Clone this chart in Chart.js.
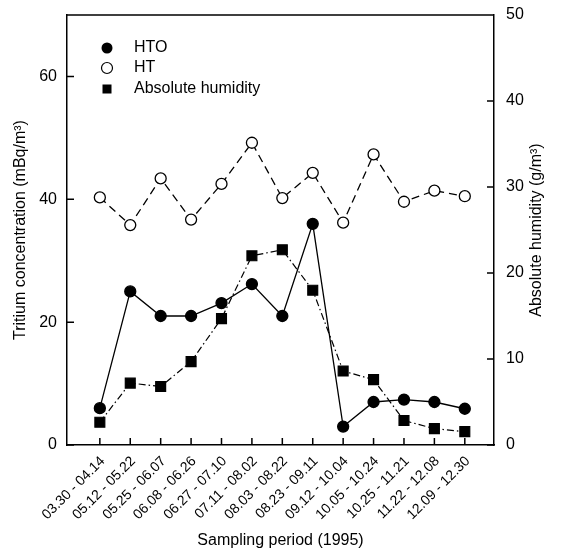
<!DOCTYPE html>
<html>
<head>
<meta charset="utf-8">
<script src="https://cdn.jsdelivr.net/npm/chart.js@4/dist/chart.umd.min.js"></script>
<style>
html,body{margin:0;padding:0;background:#fff;}
</style>
</head>
<body>
<canvas id="grafico" width="561" height="552"></canvas>
<script>
const periodos = ['03.30 - 04.14','05.12 - 05.22','05.25 - 06.07','06.08 - 06.26','06.27 - 07.10','07.11 - 08.02','08.03 - 08.22','08.23 - 09.11','09.12 - 10.04','10.05 - 10.24','10.25 - 11.21','11.22 - 12.08','12.09 - 12.30']
const valoresHTO = [6.0, 25.0, 21.0, 21.0, 23.1, 26.2, 21.0, 36.0, 3.0, 7.0, 7.4, 7.0, 5.9]
const valoresHT = [40.3, 35.8, 43.4, 36.7, 42.5, 49.2, 40.2, 44.3, 36.2, 47.3, 39.6, 41.4, 40.5]
const humedad = [2.65, 7.2, 6.8, 9.7, 14.7, 22.0, 22.7, 18.0, 8.6, 7.6, 2.85, 1.9, 1.55]
const ticksIzq = [0, 20, 40, 60]
const ticksDer = [0, 10, 20, 30, 40, 50]

Chart.defaults.font.family = '"Liberation Sans", Arial, sans-serif'
Chart.defaults.color = '#000'

const aPuntos = arr => arr.map((v, i) => ({x: i, y: v}))

// marcas hacia adentro, borde superior, leyenda y titulo derecho
const dibujoExtra = {
    id: 'dibujoExtra',
    afterDraw(chart) {
        const ctx = chart.ctx
        const area = chart.chartArea
        const sx = chart.scales.x, sy = chart.scales.y, sy2 = chart.scales.y2
        ctx.save()
        ctx.strokeStyle = '#000'
        ctx.lineWidth = 1.5
        ctx.beginPath()
        ctx.moveTo(area.left, area.top)
        ctx.lineTo(area.right, area.top)
        sx.ticks.forEach(t => {
            let px = sx.getPixelForValue(t.value)
            ctx.moveTo(px, area.bottom)
            ctx.lineTo(px, area.bottom - 7)
        })
        sy.ticks.forEach(t => {
            let py = sy.getPixelForValue(t.value)
            ctx.moveTo(area.left, py)
            ctx.lineTo(area.left + 7, py)
        })
        sy2.ticks.forEach(t => {
            let py = sy2.getPixelForValue(t.value)
            ctx.moveTo(area.right, py)
            ctx.lineTo(area.right - 7, py)
        })
        ctx.stroke()

        // leyenda
        ctx.font = '16px "Liberation Sans", Arial, sans-serif'
        ctx.textBaseline = 'middle'
        ctx.textAlign = 'left'
        ctx.fillStyle = '#000'
        ctx.lineWidth = 1.2
        let lx = 107, ly = 48
        ctx.beginPath(); ctx.arc(lx, ly, 5.5, 0, Math.PI * 2); ctx.fill()
        ctx.fillText('HTO', 134, ly)
        ly = 68
        ctx.beginPath(); ctx.arc(lx, ly, 5.5, 0, Math.PI * 2); ctx.stroke()
        ctx.fillText('HT', 134, ly)
        ly = 89
        ctx.fillRect(lx - 4.5, ly - 4.5, 9, 9)
        ctx.fillText('Absolute humidity', 134, ly)

        // titulo eje derecho
        ctx.translate(537, (area.top + area.bottom) / 2)
        ctx.rotate(-Math.PI / 2)
        ctx.textAlign = 'center'
        ctx.font = '16px "Liberation Sans", Arial, sans-serif'
        ctx.fillText('Absolute humidity (g/m³)', 0, 0)
        ctx.restore()
    }
}

let grafico = new Chart(document.getElementById('grafico'), {
    type: 'line',
    data: {
        datasets: [
            {
                label: 'HT',
                data: aPuntos(valoresHT),
                yAxisID: 'y',
                borderColor: '#000',
                borderWidth: 1.3,
                borderDash: [8, 5],
                pointStyle: 'circle',
                pointRadius: 5.5,
                pointBorderWidth: 1.3,
                pointBackgroundColor: '#fff',
                pointBorderColor: '#000',
                order: 2,
            },
            {
                label: 'HTO',
                data: aPuntos(valoresHTO),
                yAxisID: 'y',
                borderColor: '#000',
                borderWidth: 1.3,
                pointStyle: 'circle',
                pointRadius: 5.5,
                pointBackgroundColor: '#000',
                pointBorderColor: '#000',
                order: 1,
            },
            {
                label: 'Absolute humidity',
                data: aPuntos(humedad),
                yAxisID: 'y2',
                borderColor: '#000',
                borderWidth: 1.2,
                borderDash: [7, 3, 1.5, 3],
                pointStyle: 'rect',
                pointRadius: 7,
                pointBackgroundColor: '#000',
                pointBorderColor: '#000',
                order: 3,
            }
        ]
    },
    options: {
        responsive: false,
        animation: false,
        layout: { padding: { top: 15, left: 0, right: 0, bottom: 0 } },
        plugins: { legend: { display: false }, tooltip: { enabled: false } },
        scales: {
            x: {
                type: 'linear',
                position: 'bottom',
                min: -1.08,
                max: 12.96,
                afterBuildTicks: s => { s.ticks = periodos.map((p, i) => ({value: i})) },
                afterFit: s => { s.height = 107; s.paddingLeft = 0; s.paddingRight = 0 },
                grid: { display: false },
                border: { display: true, color: '#000', width: 1.5 },
                ticks: {
                    autoSkip: false,
                    maxRotation: 45,
                    minRotation: 45,
                    padding: 0,
                    labelOffset: 3,
                    font: { size: 14 },
                    callback: v => periodos[v],
                },
                title: {
                    display: true,
                    text: 'Sampling period (1995)',
                    font: { size: 16 },
                    padding: { top: 0, bottom: 2 },
                },
            },
            y: {
                position: 'left',
                min: 0,
                max: 70,
                afterBuildTicks: s => { s.ticks = ticksIzq.map(v => ({value: v})) },
                afterFit: s => { s.width = 67; s.paddingTop = 0; s.paddingBottom = 0 },
                grid: { display: false },
                border: { display: true, color: '#000', width: 1.5 },
                ticks: { padding: 2, font: { size: 16 } },
                title: {
                    display: true,
                    text: 'Tritium concentration (mBq/m³)',
                    font: { size: 16 },
                    padding: { top: 11, bottom: 0 },
                },
            },
            y2: {
                position: 'right',
                min: 0,
                max: 50,
                afterBuildTicks: s => { s.ticks = ticksDer.map(v => ({value: v})) },
                afterFit: s => { s.width = 67; s.paddingTop = 0; s.paddingBottom = 0 },
                grid: { display: false },
                border: { display: true, color: '#000', width: 1.5 },
                ticks: { padding: 4, font: { size: 16 } },
            },
        },
    },
    plugins: [dibujoExtra],
})
</script>
</body>
</html>
